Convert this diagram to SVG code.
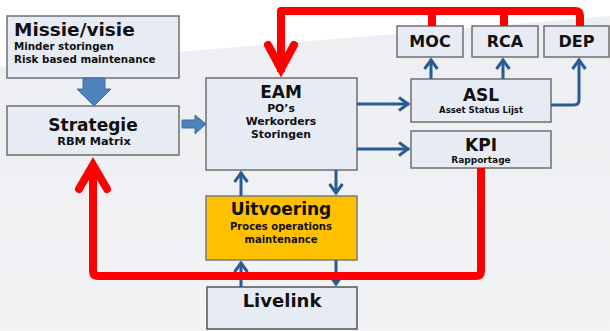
<svg xmlns="http://www.w3.org/2000/svg" width="610" height="331" viewBox="0 0 610 331">
  <defs>
    <style>
      .box { fill: #e7ebf4; stroke: #6f6f6f; stroke-width: 1.5; }
      .yel { fill: #ffc000; stroke: #7a7a7a; stroke-width: 1.5; }
      .t { font-family: "DejaVu Sans", Verdana, sans-serif; font-weight: bold; fill: #111; }
      .title { font-size: 17px; }
      .sub { font-size: 10.8px; }
      .mid { text-anchor: middle; }
      .blue { fill: none; stroke: #2b5b95; stroke-width: 3; marker-end: url(#ah); }
      .red { fill: none; stroke: #ff0000; stroke-width: 8; stroke-linejoin: round; }
      .redhead { fill: none; stroke: #ff0000; stroke-width: 8; stroke-linejoin: miter; stroke-linecap: round; }
      .big { fill: #4f81bd; stroke: #3f6fa8; stroke-width: 1; }
    </style>
    <marker id="ah" markerUnits="userSpaceOnUse" viewBox="-12 -8 14 16" refX="0" refY="0" markerWidth="14" markerHeight="16" orient="auto">
      <path d="M-10,-6.5 L-1,0 L-10,6.5" fill="none" stroke="#2b5b95" stroke-width="3"/>
    </marker>
    <linearGradient id="bg" x1="0" y1="0" x2="0" y2="1">
      <stop offset="0" stop-color="#eceef1"/>
      <stop offset="1" stop-color="#f2f3f5"/>
    </linearGradient>
  </defs>

  <rect x="0" y="0" width="610" height="331" fill="#ffffff"/>
  <polygon points="0,67 610,16 610,331 0,331" fill="url(#bg)"/>

  <g id="missie">
    <rect class="box" x="7" y="16" width="172" height="62"/>
    <text class="t" x="14" y="36" style="font-size:18.5px">Missie/visie</text>
    <text class="t" x="14" y="50" style="font-size:10.3px">Minder storingen</text>
    <text class="t" x="14" y="63" style="font-size:10.3px">Risk based maintenance</text>
  </g>

  <g id="strategie">
    <rect class="box" x="7" y="106" width="172" height="49"/>
    <text class="t title mid" x="93" y="131">Strategie</text>
    <text class="t mid" x="94" y="145" style="font-size:11.3px">RBM Matrix</text>
  </g>

  <g id="eam">
    <rect class="box" x="206" y="78" width="151" height="92"/>
    <text class="t title mid" x="281" y="98">EAM</text>
    <text class="t sub mid" x="281" y="112">PO’s</text>
    <text class="t sub mid" x="281" y="125">Werkorders</text>
    <text class="t sub mid" x="281" y="138">Storingen</text>
  </g>

  <g id="moc">
    <rect class="box" x="397" y="26" width="66" height="31"/>
    <text class="t mid" x="430" y="47" style="font-size:16px">MOC</text>
  </g>
  <g id="rca">
    <rect class="box" x="472" y="26" width="66" height="31"/>
    <text class="t mid" x="505" y="47" style="font-size:16px">RCA</text>
  </g>
  <g id="dep">
    <rect class="box" x="544" y="26" width="65" height="31"/>
    <text class="t mid" x="576.5" y="47" style="font-size:16px">DEP</text>
  </g>

  <g id="asl">
    <rect class="box" x="411" y="79" width="140" height="43"/>
    <text class="t title mid" x="481" y="101">ASL</text>
    <text class="t mid" x="481" y="113" style="font-size:8.5px">Asset Status Lijst</text>
  </g>

  <g id="kpi">
    <rect class="box" x="411" y="131" width="140" height="37"/>
    <text class="t title mid" x="481" y="151">KPI</text>
    <text class="t mid" x="481" y="163" style="font-size:9px">Rapportage</text>
  </g>

  <g id="uitvoering">
    <rect class="yel" x="206" y="196" width="151" height="64"/>
    <text class="t title mid" x="281" y="215">Uitvoering</text>
    <text class="t mid" x="281" y="230" style="font-size:10px">Proces operations</text>
    <text class="t mid" x="281" y="243" style="font-size:10px">maintenance</text>
  </g>

  <g id="livelink">
    <rect class="box" x="207" y="287" width="150" height="42" style="stroke:#555"/>
    <text class="t mid" x="282" y="307" style="font-size:18px">Livelink</text>
  </g>

  <g id="connectors">
    <polygon class="big" points="83,78 105,78 105,89 111,89 94,106 77,89 83,89"/>
    <polygon class="big" points="182,120 195,120 195,115 206,124 195,134 195,128 182,128"/>

    <path class="blue" d="M357,104 H409"/>
    <path class="blue" d="M357,149 H409"/>
    <path class="blue" d="M431,79 V59"/>
    <path class="blue" d="M503,79 V59"/>
    <path class="blue" d="M551,105 H574 Q579,105 579,100 V59"/>
    <path class="blue" d="M241,196 V172"/>
    <path class="blue" d="M336,170 V194"/>
    <path class="blue" d="M241,287 V262"/>
    <path class="blue" d="M336,260 V285"/>

    <path class="red" d="M281,72 V11 H575 Q580,11 580,16 V26"/>
    <path class="red" d="M432,11 V26"/>
    <path class="red" d="M504,11 V26"/>
    <path class="redhead" d="M268,45 L281,69 L294,45"/>

    <path class="red" d="M481,168 V271 Q481,276 476,276 H98 Q93,276 93,271 V168"/>
    <path class="redhead" d="M79,189 L93,165 L107,189"/>
  </g>
</svg>
